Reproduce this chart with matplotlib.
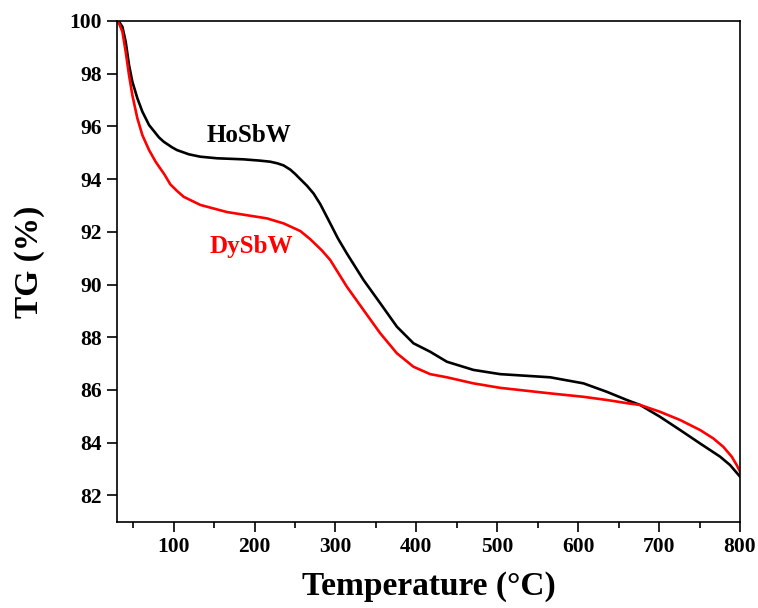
import numpy as np
import matplotlib.pyplot as plt
from matplotlib.ticker import MultipleLocator

plt.rcParams['font.family'] = ['Liberation Serif', 'DejaVu Serif']
plt.rcParams['font.weight'] = 'bold'

# temperature (°C) and TG (%)
temp_ho = [30.4, 32.5, 36.6, 40.7, 44.8, 48.9, 55.1, 61.3, 69.6, 81.9, 87.6, 98.3,
           104.2, 118.9, 133, 153.6, 186.4, 207, 219.4, 228, 235.8, 244.1, 250, 256.5,
           264.7, 273, 281.2, 293.5, 303, 314, 334.7, 355.3, 375.9, 396.4, 417, 437.7,
           470.5, 503.5, 565.3, 606.5, 635.3, 660, 676.5, 701.2, 725.9, 750.6,
           775.3, 787.7, 800]
tg_ho = [100, 99.97, 99.78, 99.21, 98.33, 97.7, 97.07, 96.56, 96.05, 95.58, 95.42, 95.2,
         95.1, 94.94, 94.85, 94.79, 94.75, 94.7, 94.66, 94.6, 94.52, 94.36, 94.2, 94.0,
         93.75, 93.45, 93.05, 92.32, 91.75, 91.18, 90.17, 89.29, 88.4, 87.77, 87.45, 87.07,
         86.76, 86.6, 86.48, 86.25, 85.93, 85.62, 85.43, 84.98, 84.48, 83.97,
         83.47, 83.15, 82.71]

temp_dy = [30.4, 32.5, 36.6, 40.7, 44.8, 48.9, 55.1, 61.3, 69.6, 77.7, 83.5, 88.1,
           95.9, 104.2, 112.3, 133, 153.6, 165.9, 186.4, 207, 215.2, 235.8, 256.5,
           268.8, 283, 293.5, 314, 334.7, 355.3, 375.9, 396.4, 417, 437.7, 470.5,
           503.5, 565.3, 606.5, 635.3, 660, 676.5, 701.2, 725.9, 750.6, 767, 779.4,
           789.7, 795.9, 800]
tg_dy = [100, 99.9, 99.6, 98.83, 97.95, 97.19, 96.31, 95.67, 95.1, 94.66, 94.4, 94.2,
         93.8, 93.55, 93.33, 93.02, 92.85, 92.75, 92.65, 92.55, 92.51, 92.32, 92.03,
         91.72, 91.3, 90.93, 89.92, 89.03, 88.15, 87.39, 86.88, 86.6, 86.48, 86.25,
         86.08, 85.87, 85.74, 85.62, 85.5, 85.43, 85.17, 84.86, 84.48, 84.16, 83.84,
         83.47, 83.15, 82.9]

fig = plt.figure(figsize=(7.58, 6.08), dpi=100)
ax = fig.add_axes([0.1544, 0.1419, 0.8219, 0.8236])

ax.plot(temp_ho, tg_ho, color='black', lw=1.9, solid_joinstyle='round')
ax.plot(temp_dy, tg_dy, color='red', lw=1.9, solid_joinstyle='round')

ax.text(141, 95.67, 'HoSbW', color='black', fontsize=18, fontweight='bold', va='center')
ax.text(144, 91.43, 'DySbW', color='red', fontsize=18, fontweight='bold', va='center')

ax.set_xlim(30, 800)
ax.set_ylim(81, 100)
ax.xaxis.set_minor_locator(MultipleLocator(50))
ax.yaxis.set_major_locator(MultipleLocator(2))
ax.set_xticks(range(100, 801, 100))

for s in ax.spines.values():
    s.set_linewidth(1.2)
ax.tick_params(which='major', direction='out', length=7, width=1.2, labelsize=15.5, pad=4)
ax.tick_params(which='minor', direction='out', length=4, width=1.2)
for lab in ax.get_xticklabels() + ax.get_yticklabels():
    lab.set_fontweight('bold')

ax.set_xlabel('Temperature (°C)', fontsize=24, fontweight='bold', labelpad=10)
ax.set_ylabel('TG (%)', fontsize=24, fontweight='bold')
ax.yaxis.set_label_coords(-0.116, 0.52)

fig.savefig('out.png', dpi=100)
